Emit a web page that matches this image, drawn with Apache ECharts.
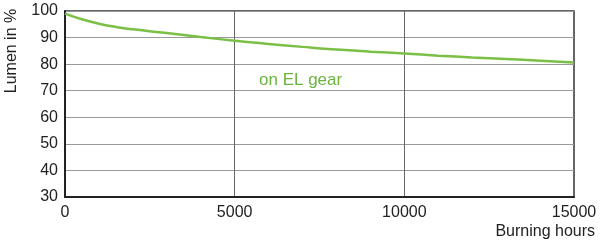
<!DOCTYPE html>
<html><head><meta charset="utf-8">
<script src="https://cdn.jsdelivr.net/npm/echarts@6/dist/echarts.min.js"></script>
<style>html,body{margin:0;padding:0;background:#fff}#c{width:600px;height:245px}</style>
</head><body><div id="c"></div>
<script>
const hours = [0, 250, 500, 1000, 1500, 2000, 3000, 4000, 5000, 6000, 7000, 8000, 9000, 10000, 11000, 12000, 13000, 14000, 15000];
const lumen = [99, 97.9, 96.9, 95.2, 94.0, 93.1, 91.7, 90.2, 88.8, 87.6, 86.5, 85.5, 84.7, 84.0, 83.2, 82.5, 81.9, 81.3, 80.6];
const seriesLabel = 'on EL gear';
const yName = 'Lumen in %';
const xName = 'Burning hours';

const chart = echarts.init(document.getElementById('c'));
const font = 'Liberation Sans, Arial, sans-serif';
chart.setOption({
  animation: false,
  grid: {left: 65, right: 26, top: 11, bottom: 48, show: true, borderColor: '#333', borderWidth: 1.5},
  xAxis: {
    type: 'value', min: 0, max: 15000, interval: 5000,
    axisLine: {show: true, lineStyle: {color: '#222', width: 2}},
    axisTick: {show: false},
    axisLabel: {color: '#222', fontSize: 16, fontFamily: font, margin: 8, formatter: v => String(v)},
    splitLine: {show: true, lineStyle: {color: '#666', width: 1}}
  },
  yAxis: {
    type: 'value', min: 30, max: 100, interval: 10,
    axisLine: {show: true, lineStyle: {color: '#222', width: 2}},
    axisTick: {show: false},
    axisLabel: {color: '#222', fontSize: 16, fontFamily: font, margin: 7},
    splitLine: {show: true, lineStyle: {color: '#999', width: 1}}
  },
  graphic: [
    {type: 'text', x: 12, y: 51, rotation: Math.PI/2, style: {text: yName, fill: '#222', font: '16px ' + font, align: 'center', verticalAlign: 'middle'}},
    {type: 'text', right: 5, top: 224, style: {text: xName, fill: '#222', font: '16px ' + font}},
    {type: 'text', left: 259, top: 72, style: {text: seriesLabel, fill: '#6cb33f', font: '17px ' + font}}
  ],
  series: [{
    type: 'line', smooth: true, showSymbol: false,
    data: hours.map((h, i) => [h, lumen[i]]),
    lineStyle: {color: '#7bbf47', width: 2.5}
  }]
});
</script></body></html>
